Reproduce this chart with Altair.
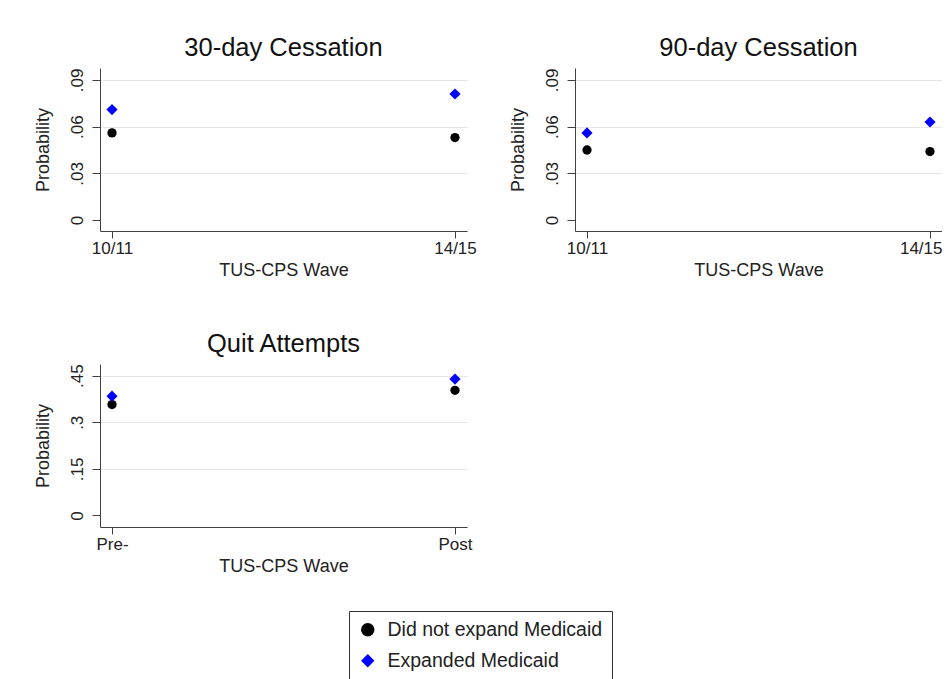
import altair as alt
import pandas as pd

# ---- data ----
groups = ["Did not expand Medicaid", "Expanded Medicaid"]
waves_cps = ["10/11", "14/15"]
waves_prepost = ["Pre-", "Post"]

cess30_not = [0.056, 0.053]
cess30_exp = [0.071, 0.081]
cess90_not = [0.045, 0.044]
cess90_exp = [0.056, 0.063]
quit_not = [0.357, 0.403]
quit_exp = [0.384, 0.439]

ticks_small = [0, 0.03, 0.06, 0.09]
ticks_quit = [0, 0.15, 0.3, 0.45]

FONT = "Liberation Sans"


def make_df(waves, not_vals, exp_vals):
    rows = []
    for w, v in zip(waves, not_vals):
        rows.append({"wave": w, "p": v, "group": groups[0]})
    for w, v in zip(waves, exp_vals):
        rows.append({"wave": w, "p": v, "group": groups[1]})
    return pd.DataFrame(rows)


label_expr = "datum.value == 0 ? '0' : replace(format(datum.value, '~g'), '0.', '.')"

legend = alt.Legend(
    title=None, orient="none", legendX=249, legendY=247, direction="vertical",
    strokeColor="#333", fillColor="white", padding=9, rowPadding=10,
    labelFontSize=19.5, labelFont=FONT, labelColor="#222", labelLimit=0,
    symbolSize=180, labelOffset=10, symbolStrokeWidth=0,
)


def panel(df, title, waves, ydom, yticks, show_legend, pull_last_label=False):
    leg = legend if show_legend else None
    xaxis_kw = dict(title="TUS-CPS Wave", labelAngle=0, grid=False,
                    tickSize=7, labelPadding=2, titlePadding=5,
                    labelFontSize=17, titleFontSize=18)
    if pull_last_label:
        test = "datum.value === '%s'" % waves[-1]
        xaxis_kw["labelAlign"] = {"condition": {"test": test, "value": "right"}, "value": "center"}
        xaxis_kw["labelOffset"] = {"condition": {"test": test, "value": 12}, "value": 0}
    return alt.Chart(df).mark_point(filled=True, opacity=1).encode(
        x=alt.X("wave:N", sort=waves,
                scale=alt.Scale(type="point", padding=0.035),
                axis=alt.Axis(**xaxis_kw)),
        y=alt.Y("p:Q",
                scale=alt.Scale(domain=ydom, nice=False, zero=False),
                axis=alt.Axis(title="Probability", values=yticks, labelExpr=label_expr,
                              labelAngle=270, labelAlign="center", labelBaseline="alphabetic",
                              tickSize=8, labelPadding=10, titlePadding=16,
                              labelFontSize=17, titleFontSize=18,
                              gridColor="#e6e6e6",
                              gridOpacity={"condition": {"test": "datum.value === 0", "value": 0}, "value": 1})),
        color=alt.Color("group:N", scale=alt.Scale(domain=groups, range=["#000000", "#0000ff"]),
                        legend=leg),
        shape=alt.Shape("group:N", scale=alt.Scale(domain=groups, range=["circle", "diamond"]),
                        legend=leg),
        size=alt.Size("group:N", scale=alt.Scale(domain=groups, range=[86, 125]), legend=None),
    ).properties(
        width=367, height=163,
        title=alt.TitleParams(title, fontSize=25.5, font=FONT, fontWeight="normal", color="#111", offset=6.5),
    )


p1 = panel(make_df(waves_cps, cess30_not, cess30_exp), "30-day Cessation", waves_cps,
           [-0.00707, 0.0977], ticks_small, False)
p2 = panel(make_df(waves_cps, cess90_not, cess90_exp), "90-day Cessation", waves_cps,
           [-0.00707, 0.0977], ticks_small, False, pull_last_label=True)
p3 = panel(make_df(waves_prepost, quit_not, quit_exp), "Quit Attempts", waves_prepost,
           [-0.0373, 0.4876], ticks_quit, True)

chart = alt.concat(p1, p2, p3, columns=2, spacing={"row": 133, "column": 108}, bounds="flush").properties(
    padding={"left": 26, "top": 28, "right": 0, "bottom": 0}
).resolve_legend(color="independent", shape="independent").configure(
    font=FONT,
).configure_view(
    strokeWidth=0,
).configure_axis(
    domainColor="#404040", tickColor="#404040", labelColor="#222", titleColor="#222",
    labelFont=FONT, titleFont=FONT, titleFontWeight="normal",
)

chart.save("out.html", embed_options={"renderer": "svg", "actions": False})
